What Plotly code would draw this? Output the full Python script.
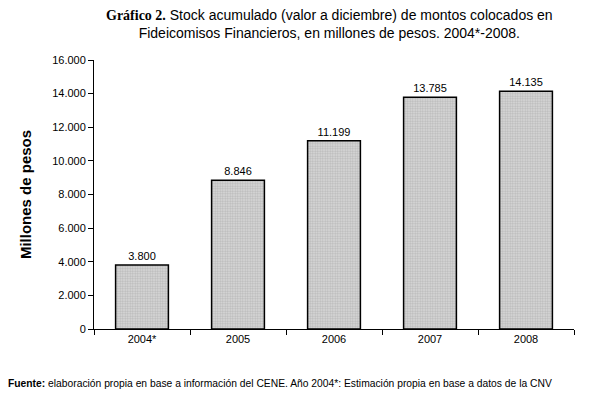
import plotly.graph_objects as go

categories = ["2004*", "2005", "2006", "2007", "2008"]
values = [3800, 8846, 11199, 13785, 14135]
value_labels = ["3.800", "8.846", "11.199", "13.785", "14.135"]
y_ticks = [0, 2000, 4000, 6000, 8000, 10000, 12000, 14000, 16000]
y_tick_labels = ["0", "2.000", "4.000", "6.000", "8.000", "10.000", "12.000", "14.000", "16.000"]

font_family = "Arial, Liberation Sans, sans-serif"

fig = go.Figure()
fig.add_trace(go.Bar(
    x=categories, y=values,
    width=0.55,
    text=value_labels, textposition="outside",
    textfont=dict(family=font_family, size=11, color="black"),
    cliponaxis=False,
    marker=dict(
        color="#dadada",
        line=dict(color="black", width=1.5),
        pattern=dict(shape=".", fgcolor="#9a9a9a", size=2.5, solidity=0.5),
    ),
))

fig.update_layout(
    width=589, height=397,
    margin=dict(l=94, r=15, t=60, b=68),
    paper_bgcolor="white", plot_bgcolor="white",
    showlegend=False,
    font=dict(family=font_family, size=11, color="black"),
)
fig.update_xaxes(
    showline=True, linecolor="black", linewidth=1,
    ticks="outside", tickson="boundaries", ticklen=5, tickcolor="black",
    tickfont=dict(family=font_family, size=11),
    showgrid=False,
)
fig.update_yaxes(
    range=[0, 16000], tickvals=y_ticks, ticktext=y_tick_labels,
    showline=True, linecolor="black", linewidth=1,
    ticks="outside", ticklen=5, tickcolor="black",
    tickfont=dict(family=font_family, size=11),
    showgrid=False, zeroline=False,
    title=dict(text="<b>Millones de pesos</b>", font=dict(family=font_family, size=15), standoff=16),
)

fig.add_annotation(
    xref="paper", yref="paper", x=0.49, y=1.0, yshift=17,
    xanchor="center", yanchor="bottom", showarrow=False, align="center",
    text="<b><span style='font-family:Times New Roman, Liberation Serif, serif'>Gráfico 2.</span></b> Stock acumulado (valor a diciembre) de montos colocados en<br>Fideicomisos Financieros, en millones de pesos. 2004*-2008.",
    font=dict(family=font_family, size=14),
)
fig.add_annotation(
    xref="paper", yref="paper", x=-94/480 + 6/480, y=0, yshift=-47,
    xanchor="left", yanchor="top", showarrow=False, align="left",
    text="<b>Fuente:</b> elaboración propia en base a información del CENE. Año 2004*: Estimación propia en base a datos de la CNV",
    font=dict(family=font_family, size=10.3),
)

fig.write_html("out.html", config={"displayModeBar": False},
               post_script="document.body.style.margin='0';document.body.style.padding='0';")
